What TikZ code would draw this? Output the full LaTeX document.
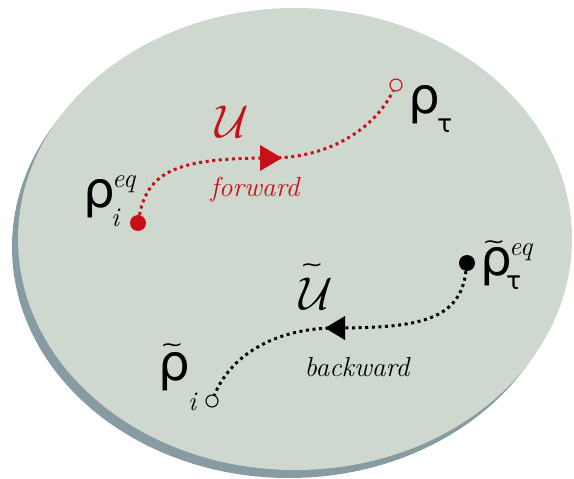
\documentclass[tikz,border=0pt]{standalone}
\usepackage{amsmath}
\usepackage{fontspec}
\newfontfamily\gk{DejaVu Sans}
\definecolor{bgfill}{RGB}{207,216,207}
\definecolor{shadowc}{RGB}{134,156,162}
\definecolor{fred}{RGB}{200,16,26}
\begin{document}
\begin{tikzpicture}[x=1pt,y=-1pt,
  dotline/.style={line width=3pt, dash pattern=on 3pt off 3.6pt},
  fulldot/.style={circle, inner sep=0pt, minimum size=16pt, fill=#1},
  opendot/.style={circle, inner sep=0pt, minimum size=12pt, draw=#1, line width=1.1pt},
  rho/.style={inner sep=0pt, anchor=base west, font=\gk\fontsize{50}{54}\selectfont},
  scr/.style={inner sep=0pt, anchor=base west, font=\fontsize{27}{29}\selectfont\itshape},
  tau/.style={inner sep=0pt, anchor=base west, font=\gk\fontsize{25}{27}\selectfont},
  tld/.style={inner sep=0pt, anchor=base, text depth=0pt, xscale=1.1, yscale=0.8, font=\gk\fontsize{25}{27}\selectfont},
  word/.style={inner sep=0pt, font=\fontsize{27.5}{30}\selectfont\itshape},
  opname/.style={inner sep=0pt, scale=1.85, font=\fontsize{24.88}{30}\selectfont}]
\useasboundingbox (0,0) rectangle (574,479);
% disc
\fill[shadowc] (289,247) ellipse [x radius=277, y radius=231];
\fill[bgfill] (295,239) ellipse [x radius=277, y radius=231];
% forward
\node[fulldot=fred] (fi) at (138,223) {};
\node[opendot=fred] (ft) at (396,85) {};
\coordinate (fa) at (271,158);
\draw[fred, dotline] (fi) .. controls (148,170) and (180,158) .. (fa)
   .. controls (330,158) and (375,128) .. (ft);
\fill[fred, shift={(fa)}] (11,0) -- (-11,13) -- (-11,-13) -- cycle;
\node[opname, text=fred] (U) at (232,122) {$\mathcal{U}$};
\node[word, text=fred] (fw) at (255,190) {forward};
\node[rho] (r1) at (83,207) {ρ};
\node[scr] (r1e) at (112,187) {eq};
\node[scr] (r1i) at (111,226) {i};
\node[rho] (r2) at (408,113) {ρ};
\node[tau] (r2t) at (437,132) {τ};
% backward
\node[fulldot=black] (bt) at (467,263) {};
\node[opendot=black] (bi) at (212,401) {};
\coordinate (ba) at (335,328);
\draw[black, dotline] (bt) .. controls (460,320) and (420,328) .. (ba)
   .. controls (280,328) and (232,352) .. (bi);
\fill[black, shift={(ba)}] (-10,0) -- (10,12) -- (10,-12) -- cycle;
\node[opname] (Ut) at (316,294) {$\mathcal{U}$};
\node[tld] (Utt) at (312,267) {\raisebox{-0.2em}{∼}};
\node[word] (bw) at (357,367) {backward};
\node[rho] (r3) at (480,275) {ρ};
\node[tld] (r3t) at (494,244) {\raisebox{-0.2em}{∼}};
\node[scr] (r3e) at (509,255) {eq};
\node[tau] (r3a) at (506,289) {τ};
\node[rho] (r4) at (158,380) {ρ};
\node[tld] (r4t) at (172,347) {\raisebox{-0.2em}{∼}};
\node[scr] (r4i) at (188,410) {i};
\end{tikzpicture}
\end{document}
